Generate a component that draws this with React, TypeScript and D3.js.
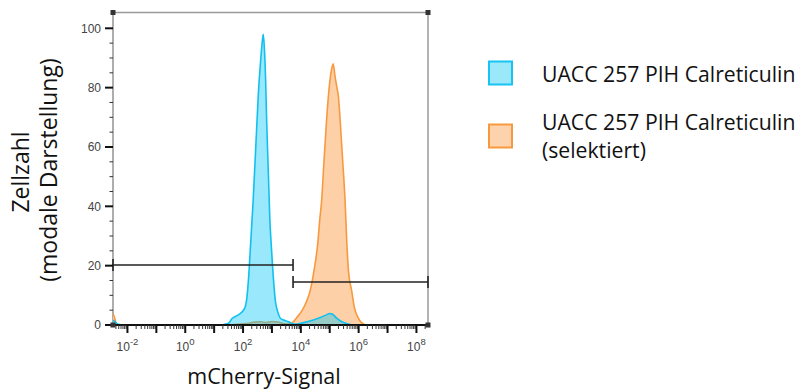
import React from "react";
import * as d3 from "d3";

// ---- data (x values are log10 of mCherry signal, y values are % of mode) ----
const blueExp = [-2.5, -2.42, -2.35, -2.2, 1.2, 1.4, 1.5, 1.62, 1.85, 2.05, 2.13, 2.2, 2.26, 2.35, 2.45, 2.53, 2.6, 2.66, 2.7, 2.74, 2.78, 2.82, 2.88, 2.93, 2.97, 3.02, 3.08, 3.12, 3.2, 3.3, 3.45, 3.6, 3.7, 3.85, 4.1, 4.4, 4.7, 4.9, 5.0, 5.1, 5.25, 5.4, 5.6, 5.75, 6.0, 8.4];
const blueCount = [1.6, 1.0, 0.3, 0, 0, 0.3, 0.6, 2.2, 3.5, 5.5, 9, 17, 27, 42, 62, 78, 88, 95, 98, 93, 83, 68, 50, 35, 28, 20, 12, 8, 4.5, 2.2, 1.5, 1.0, 0.4, 0.3, 0.8, 1.6, 2.6, 3.5, 3.9, 3.6, 2.2, 1.2, 0.5, 0.1, 0, 0];

const orangeExp = [-2.5, -2.45, -2.38, -2.3, 1.5, 1.9, 2.2, 2.4, 2.6, 2.8, 3.0, 3.2, 3.4, 3.55, 3.7, 3.86, 4.05, 4.2, 4.32, 4.45, 4.59, 4.65, 4.72, 4.8, 4.89, 4.98, 5.06, 5.12, 5.18, 5.25, 5.3, 5.36, 5.45, 5.53, 5.59, 5.65, 5.76, 5.85, 5.98, 6.1, 6.2, 6.3, 8.4];
const orangeCount = [4, 2.5, 0.5, 0, 0, 0.3, 0.6, 1.0, 1.1, 0.8, 1.2, 1.0, 0.5, 0.3, 0.8, 2.5, 5, 8, 11.5, 18, 28, 35, 42, 55, 69, 80, 86, 88, 84, 80, 77, 69, 55, 42, 28, 18, 11.5, 6, 2.5, 0.8, 0.2, 0, 0];

const yTicks = [0, 20, 40, 60, 80, 100];
const xDecades = [-2, -1, 0, 1, 2, 3, 4, 5, 6, 7, 8];
const xLabelDecades = [-2, 0, 2, 4, 6, 8];
const gateLow = [-2.5, 3.73];
const gateHigh = [3.73, 8.4];
const gateLevels = [20.2, 14.5];
const legendLabels = [["UACC 257 PIH Calreticulin"], ["UACC 257 PIH Calreticulin", "(selektiert)"]];

const X0 = 113, X1 = 428, Y0 = 325, YTOP = 12.5;

export default function App() {
  const x = d3.scaleLinear().domain([-2.5, 8.4]).range([X0, X1]);
  const y = d3.scaleLinear().domain([0, 100]).range([Y0, 28.3]);

  const area = d3.area<[number, number]>()
    .x(d => x(d[0])).y0(Y0).y1(d => y(d[1])).curve(d3.curveMonotoneX);
  const line = d3.line<[number, number]>()
    .x(d => x(d[0])).y(d => y(d[1])).curve(d3.curveMonotoneX);

  const blue: [number, number][] = blueExp.map((e, i) => [e, blueCount[i]]);
  const orange: [number, number][] = orangeExp.map((e, i) => [e, orangeCount[i]]);

  const minorX: number[] = [];
  for (let k = -3; k <= 8; k++) {
    for (let m = 2; m <= 9; m++) {
      const v = k + Math.log10(m);
      if (v >= -2.5 && v <= 8.4) minorX.push(v);
    }
  }
  const minorY: number[] = d3.range(0, 101, 5).filter(v => v % 20 !== 0);

  const tickFont = "'Liberation Sans', Arial, sans-serif";
  const labelFont = "'Open Sans', sans-serif";

  return (
    <svg width={803} height={390} style={{ position: "absolute", left: 0, top: 0, background: "#fff" }}>
      <defs>
        <clipPath id="plot">
          <rect x={X0} y={YTOP} width={X1 - X0} height={Y0 - YTOP} />
        </clipPath>
      </defs>

      {/* frame */}
      <line x1={X0} y1={YTOP} x2={X1} y2={YTOP} stroke="#9a9a9a" strokeWidth={1.5} />
      <line x1={X1} y1={YTOP} x2={X1} y2={Y0} stroke="#9a9a9a" strokeWidth={1.5} />
      <line x1={X0} y1={YTOP} x2={X0} y2={Y0} stroke="#777" strokeWidth={1.2} />

      {/* histograms */}
      <g clipPath="url(#plot)">
        <path d={area(orange) || ""} fill="#fdd0a8" />
        <path d={line(orange) || ""} fill="none" stroke="#f8993f" strokeWidth={1.6} />
        <path d={area(blue) || ""} fill="rgb(0,198,245)" fillOpacity={0.4} />
        <path d={line(blue) || ""} fill="none" stroke="#12c0f0" strokeWidth={1.6} />
      </g>

      {/* gates */}
      {[gateLow, gateHigh].map((g, i) => (
        <g key={i} stroke="#222" strokeWidth={1.6}>
          <line x1={x(g[0])} x2={x(g[1])} y1={y(gateLevels[i])} y2={y(gateLevels[i])} />
          <line x1={x(g[0])} x2={x(g[0])} y1={y(gateLevels[i]) - 6} y2={y(gateLevels[i]) + 6} />
          <line x1={x(g[1])} x2={x(g[1])} y1={y(gateLevels[i]) - 6} y2={y(gateLevels[i]) + 6} />
        </g>
      ))}

      {/* bottom axis */}
      <line x1={X0} y1={Y0} x2={X1} y2={Y0} stroke="#111" strokeWidth={2} />
      {minorX.map((v, i) => (
        <line key={"mx" + i} x1={x(v)} x2={x(v)} y1={Y0} y2={Y0 + 4} stroke="#333" strokeWidth={1} />
      ))}
      {xDecades.map(v => (
        <line key={"Mx" + v} x1={x(v)} x2={x(v)} y1={Y0} y2={Y0 + 8} stroke="#111" strokeWidth={2} />
      ))}
      {xLabelDecades.map(v => (
        <text key={"lx" + v} x={x(v)} y={351} textAnchor="middle" fontFamily={tickFont} fontSize={12} fill="#444">
          10<tspan dy={-6} fontSize={9.5}>{v}</tspan>
        </text>
      ))}

      {/* left axis */}
      {minorY.map(v => (
        <line key={"my" + v} x1={X0 - 3.5} x2={X0} y1={y(v)} y2={y(v)} stroke="#333" strokeWidth={1} />
      ))}
      {yTicks.map(v => (
        <g key={"y" + v}>
          <line x1={X0 - 8} x2={X0} y1={y(v)} y2={y(v)} stroke="#111" strokeWidth={2} />
          <text x={X0 - 12} y={y(v)} dy="0.35em" textAnchor="end" fontFamily={tickFont} fontSize={12} fill="#444">{v}</text>
        </g>
      ))}

      {/* corner squares */}
      {[[X0, YTOP], [X1, YTOP], [X1, Y0], [X0, Y0]].map((p, i) => (
        <rect key={"c" + i} x={p[0] - 2.5} y={p[1] - 2.5} width={5} height={5} fill="#333" />
      ))}

      {/* axis titles */}
      <text x={264} y={384} textAnchor="middle" fontFamily={labelFont} fontSize={21.5} fill="#111">mCherry-Signal</text>
      <text transform="translate(29,172) rotate(-90)" textAnchor="middle" fontFamily={labelFont} fontSize={23} fill="#111">Zellzahl</text>
      <text transform="translate(57,170) rotate(-90)" textAnchor="middle" fontFamily={labelFont} fontSize={23} fill="#111">(modale Darstellung)</text>

      {/* legend */}
      <rect x={489} y={61.5} width={23} height={23} fill="#9be8fb" stroke="#16c3f2" strokeWidth={2} />
      <rect x={489} y={124.5} width={23} height={23} fill="#fdd3ad" stroke="#f8993f" strokeWidth={2} />
      {legendLabels.map((lines, i) => (
        <text key={"lg" + i} x={542} y={i === 0 ? 82 : 130} fontFamily={labelFont} fontSize={21.2} fill="#111">
          {lines.map((t, j) => (
            <tspan key={j} x={542} dy={j === 0 ? 0 : 28}>{t}</tspan>
          ))}
        </text>
      ))}
    </svg>
  );
}
